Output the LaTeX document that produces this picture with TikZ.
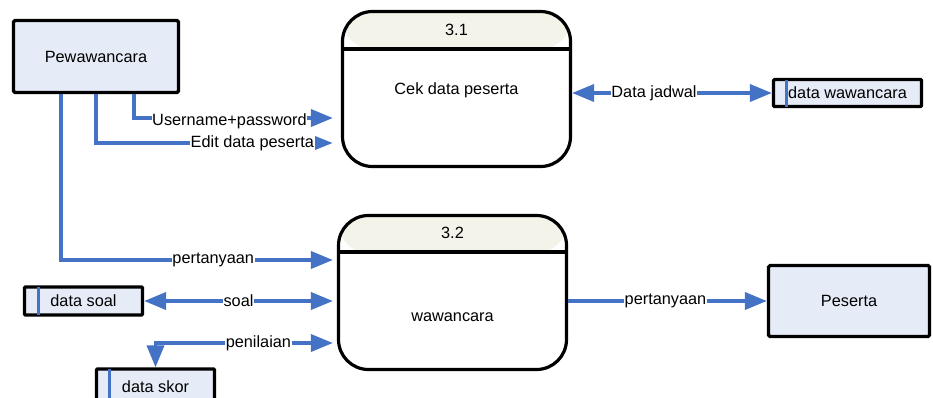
\documentclass[tikz,border=0pt]{standalone}
\usepackage{fontspec}
\setmainfont{Liberation Sans}
\usetikzlibrary{arrows.meta,calc}
\definecolor{flow}{HTML}{4472C4}
\definecolor{boxfill}{HTML}{E6ECF7}
\definecolor{headfill}{HTML}{F3F3EA}

\begin{document}
\begin{tikzpicture}[x=1pt,y=-1pt,
  every node/.style={font=\fontsize{16.3}{19}\selectfont, text=black},
  entity/.style={draw=black, line width=3.2pt, fill=boxfill, rounded corners=1.5pt,
    inner sep=0pt},
  proc/.style={draw=black, line width=3.2pt, rounded corners=30pt, fill=white,
    inner sep=0pt, minimum width=228pt, minimum height=155pt,
    path picture={\fill[headfill] (path picture bounding box.north west)
      rectangle ([yshift=-37.5pt]path picture bounding box.north east);}},
  store/.style={draw=black, line width=3.2pt, fill=boxfill, rounded corners=1pt,
    inner sep=0pt},
  flowline/.style={draw=flow, line width=3.6pt},
  tip/.style={-{Triangle[length=22pt,width=17pt]}},
  smalltip/.style={-{Triangle[length=18pt,width=13pt]}},
  twotips/.style={{Triangle[length=22pt,width=17pt]}-{Triangle[length=22pt,width=17pt]}},
  lbl/.style={fill=white, inner sep=0.6pt},
  divider/.style={draw=black, line width=3.2pt},
  storemark/.style={draw=flow, line width=3pt}
]
\useasboundingbox (0,0) rectangle (933,397);
\clip (0,0) rectangle (933,397);

% external entities
\node[entity, minimum width=165pt, minimum height=72pt] (pew) at (96,56.5) {Pewawancara};
\node[entity, minimum width=161pt, minimum height=71pt] (peserta) at (849,301) {Peserta};

% processes
\node[proc, minimum height=155pt] (p31) at (456.5,89) {};
\draw[divider] ($(p31.north west)+(0,39)$) -- ($(p31.north east)+(0,39)$);
\node (p31num) at ($(p31.north)+(0,20)$) {3.1};
\node (p31txt) at ($(p31.north)+(0,80)$) {Cek data peserta};

\node[proc, minimum height=154pt] (p32) at (452.5,292.5) {};
\draw[divider] ($(p32.north west)+(0,38)$) -- ($(p32.north east)+(0,38)$);
\node (p32num) at ($(p32.north)+(0,19)$) {3.2};
\node (p32txt) at ($(p32.north)+(0,103)$) {wawancara};

% data stores
\node[store, minimum width=148pt, minimum height=27pt] (dwaw) at (847.5,93) {data wawancara};
\draw[storemark] ($(dwaw.north west)+(15,1.6)$) -- ($(dwaw.south west)+(15,-1.6)$);

\node[store, minimum width=118pt, minimum height=28pt] (dsoal) at (83.5,301) {data soal};
\draw[storemark] ($(dsoal.north west)+(16,1.6)$) -- ($(dsoal.south west)+(16,-1.6)$);

\node[store, minimum width=118pt, minimum height=36pt] (dskor) at (155.5,387) {data skor};
\draw[storemark] ($(dskor.north west)+(15,1.6)$) -- ($(dskor.south west)+(15,-1.6)$);

% data flows
\draw[flowline, tip] ($(pew.south)+(38,0)$) |- ($(p31.west)+(-8,29)$)
  node[lbl, pos=0.74, yshift=-3pt] {Username+password};
\draw[flowline, smalltip] (pew.south) |- ($(p31.west)+(-8,54)$)
  node[lbl, pos=0.83] {Edit data peserta};
\draw[flowline, twotips] (dwaw.west -| p31.east) -- (dwaw.west)
  node[lbl, pos=0.41] {Data jadwal};

\draw[flowline, tip] ($(pew.south)+(-35,0)$) |- ($(p32.west)+(-4,-32.5)$)
  node[lbl, pos=0.78] {pertanyaan};
\draw[flowline, twotips] (dsoal.east) -- ($(dsoal.east -| p32.west)+(-4,0)$)
  node[lbl, midway] {soal};
\draw[flowline, twotips] ($(p32.west)+(-4,50.5)$) -| (dskor.north)
  node[lbl, pos=0.21] {penilaian};
\draw[flowline, tip] (peserta.west -| p32.east) -- (peserta.west)
  node[lbl, pos=0.49] {pertanyaan};
\end{tikzpicture}
\end{document}
